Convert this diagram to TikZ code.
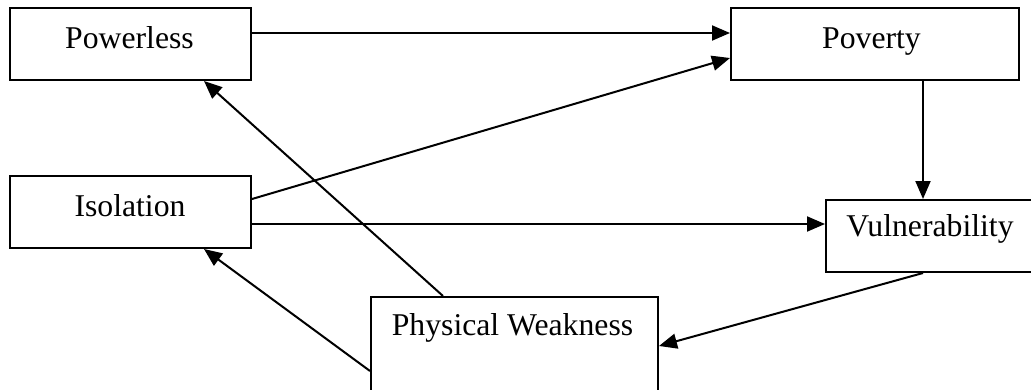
\documentclass[tikz,border=0pt]{standalone}
\usepackage{fontspec}
\setmainfont{Liberation Serif}
\usetikzlibrary{arrows.meta,calc}
\tikzset{
  boxnode/.style={draw=black, line width=2pt, inner sep=0pt, anchor=north west},
  lbl/.style={anchor=base, inner sep=0pt, font=\fontsize{31.7pt}{36pt}\selectfont},
  conn/.style={line width=2pt, -{Triangle[length=18pt,width=15pt]}}
}
\begin{document}
\begin{tikzpicture}[x=1pt,y=-1pt]
\useasboundingbox (0,0) rectangle (1031,389);
\clip (0,0) rectangle (1031,389);
% boxes
\node[boxnode, minimum width=241pt, minimum height=72pt] (pw) at (9,7) {};
\node[boxnode, minimum width=288pt, minimum height=72pt] (pov) at (730,7) {};
\node[boxnode, minimum width=241pt, minimum height=72pt] (iso) at (9,175) {};
\node[boxnode, minimum width=230pt, minimum height=72pt] (vul) at (825,199) {};
\node[boxnode, minimum width=287pt, minimum height=120pt] (phw) at (370,296) {};
% labels
\node[lbl] (tpw) at (129.5,48) {Powerless};
\node[lbl] (tpov) at (871.5,48) {Poverty};
\node[lbl] (tiso) at (130,216) {Isolation};
\node[lbl] (tvul) at (930,236) {Vulnerability};
\node[lbl] (tphw) at (512.5,335) {Physical Weakness};
% connectors
\draw[conn] ([yshift=11pt]pw.east) -- ([yshift=11pt]pov.west);
\draw[conn] ([yshift=13pt]iso.east) -- ([yshift=-14pt]pov.west);
\draw[conn] ([yshift=-12pt]iso.east) coordinate (isoA) -- (isoA -| vul.west);
\draw[conn] ([xshift=48pt]pov.south) coordinate (povA) -- (povA |- vul.north);
\draw[conn] ([xshift=-18pt]vul.south) -- ([yshift=11pt]phw.east);
\draw[conn] ([xshift=-71.5pt]phw.north) -- ([xshift=73.5pt]pw.south);
\draw[conn] ([yshift=-14pt]phw.west) -- ([xshift=73.5pt]iso.south);
\end{tikzpicture}
\end{document}
